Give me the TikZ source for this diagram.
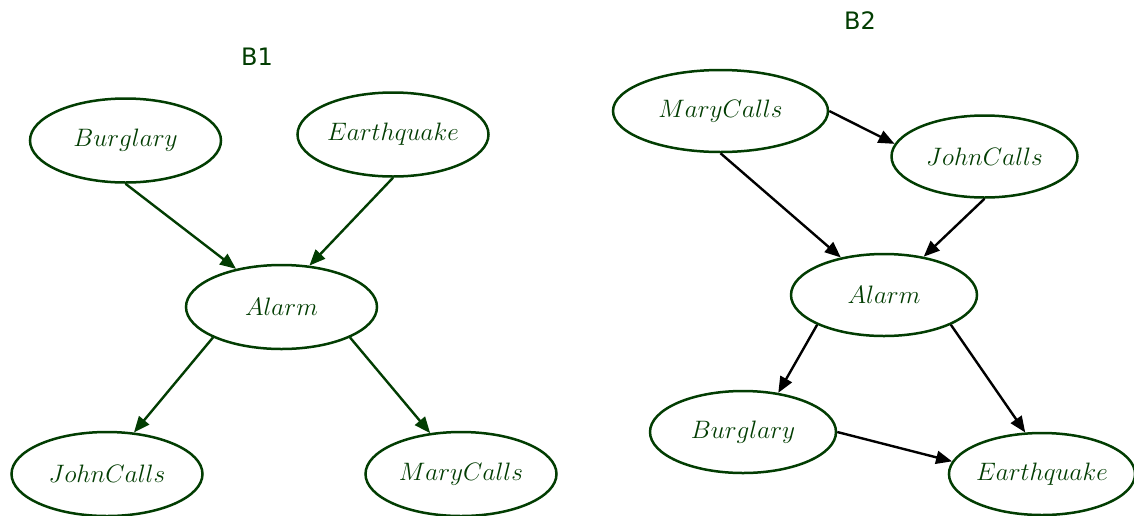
\documentclass[tikz,border=0pt]{standalone}
\usepackage{fontspec}
\newfontfamily\titlefont{DejaVu Sans}
\DeclareFontShape{OML}{cmm}{m}{it}{<-> cmmi12}{}
\usetikzlibrary{arrows.meta, shapes.geometric}
\definecolor{netgreen}{HTML}{023D02}
\tikzset{
  >={Triangle[length=8pt, width=6.5pt]},
  var/.style     = {draw=netgreen, ellipse, line width=1.25pt, text=netgreen,
                    minimum width=95.5pt, minimum height=42pt, inner sep=0pt,
                    font=\fontsize{12.6}{14}\selectfont},
  varb/.style    = {var, minimum width=93pt, minimum height=41pt},
  varwide/.style = {varb, minimum width=107.5pt},
  title/.style   = {text=netgreen, font=\titlefont\fontsize{12}{14}\selectfont},
  arrowg/.style  = {->, line width=1.2pt, netgreen},
  arrowk/.style  = {->, line width=1.2pt, black},
}

\begin{document}
\begin{tikzpicture}[x=0.5pt, y=-0.5pt]
  \useasboundingbox (0,0) rectangle (1134,515);

  % B1
  \node[title] (t1) at (257,57) {B1};
  \node[var] (b1burg)  at (125.5,140.5) {$Burglary$};
  \node[var] (b1quake) at (393,134.5)   {$Earthquake$};
  \node[var] (b1alarm) at (281.5,307)   {$Alarm$};
  \node[var] (b1john)  at (107,474)     {$JohnCalls$};
  \node[var] (b1mary)  at (461,474)     {$MaryCalls$};

  \foreach \a/\b in {b1burg.south/b1alarm.140, b1quake.south/b1alarm.56,
                     b1alarm.204/b1john.57, b1alarm.336/b1mary.127}
    \draw[arrowg] (\a) -- (\b);

  % B2
  \node[title] (t2) at (860,21) {B2};
  \node[varwide] (b2mary)  at (720.5,111)  {$MaryCalls$};
  \node[varb]    (b2john)  at (984.5,156.5) {$JohnCalls$};
  \node[varb]    (b2alarm) at (884,295)    {$Alarm$};
  \node[varb]    (b2burg)  at (743,432)    {$Burglary$};
  \node[varb]    (b2quake) at (1042,474)   {$Earthquake$};

  \foreach \a/\b in {b2mary.east/b2john.172, b2mary.south/b2alarm.139,
                     b2john.south/b2alarm.44, b2alarm.204/b2burg.48,
                     b2alarm.336/b2quake.112, b2burg.east/b2quake.172}
    \draw[arrowk] (\a) -- (\b);
\end{tikzpicture}
\end{document}
